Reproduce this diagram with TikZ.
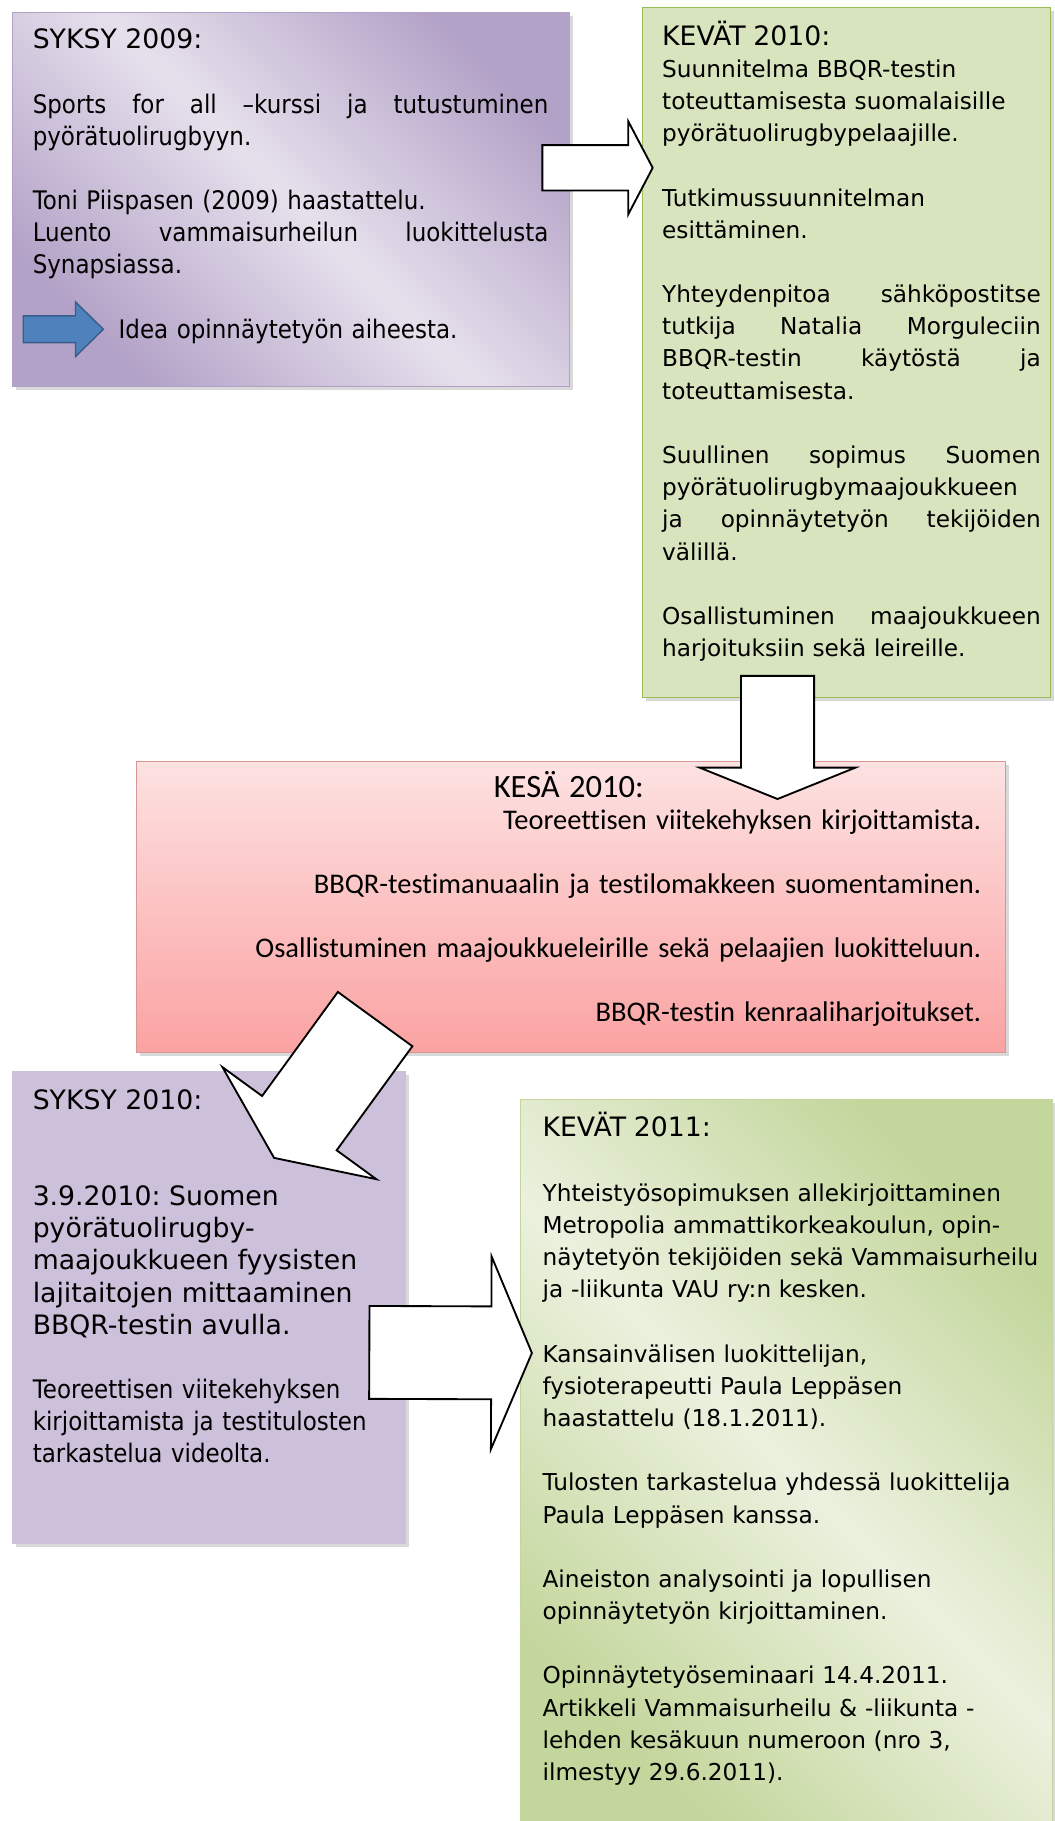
\documentclass[tikz,border=0pt]{standalone}
\usepackage{fontspec}
\setmainfont{DejaVu Sans}
\newfontfamily\verd{DejaVu Sans}
\newfontfamily\tah{DejaVu Sans}[FakeStretch=0.9]
\newfontfamily\calib{Carlito}[Ligatures=NoCommon]
\usetikzlibrary{calc,shadows}
\setlength{\parindent}{0pt}
\frenchspacing

\definecolor{lilaDark}{HTML}{B3A2C7}
\definecolor{lilaLight}{HTML}{E6E0EC}
\definecolor{lilaFlat}{HTML}{CCC0DA}
\definecolor{greenFlat}{HTML}{D7E4BD}
\definecolor{greenDark}{HTML}{C3D69B}
\definecolor{greenLight}{HTML}{EBF1DE}
\definecolor{greenLine}{HTML}{9BBB59}
\definecolor{pinkTop}{HTML}{FDE2E2}
\definecolor{pinkBot}{HTML}{FBA2A2}
\definecolor{redLine}{HTML}{D99694}
\definecolor{arrowBlue}{HTML}{4F81BD}
\definecolor{arrowBlueLine}{HTML}{385D8A}

% justified line and empty line
\newcommand{\jl}[1]{\makebox[\hsize][s]{\spaceskip=\fontdimen2\font plus 1fil\relax #1}}
\newcommand{\gap}{\\[\baselineskip]}

% block arrow from #2 to #3: shaft half width #4, head half width #5, head length #6
\newcommand{\blockarrow}[6][]{%
  \coordinate (hb) at ($(#3)!#6!(#2)$);
  \draw[blockarr,#1] ($(#2)!#4!90:(#3)$) -- ($(hb)!#4!90:(#3)$)
    -- ($(hb)!#5!90:(#3)$) -- (#3) -- ($(hb)!#5!-90:(#3)$)
    -- ($(hb)!#4!-90:(#3)$) -- ($(#2)!#4!-90:(#3)$) -- cycle;
}

\begin{document}
\begin{tikzpicture}[x=1pt,y=-1pt,
    box/.style={draw, line width=0.8pt, inner sep=0pt, anchor=north west,
      drop shadow={shadow xshift=3pt, shadow yshift=-3pt, opacity=0.3}},
    lilabox/.style={box, top color=lilaDark, bottom color=lilaDark,
      middle color=lilaLight, shading angle=-45, draw=lilaDark},
    greenbox/.style={box, top color=greenDark, bottom color=greenDark,
      middle color=greenLight, shading angle=-45, draw=greenDark},
    txt/.style={inner sep=0pt, anchor=base west, align=left},
    blockarr/.style={draw=black, fill=white, line width=1.6pt, line join=miter}]

    \useasboundingbox (0,0) rectangle (908,1568);

    % boxes
    \node[lilabox, minimum width=480pt, minimum height=322pt] (syksy09) at (10,10) {};
    \node[box, fill=greenFlat, draw=greenLine, minimum width=351pt,
      minimum height=594pt] (kevat10) at (553,6) {};
    \node[box, top color=pinkTop, bottom color=pinkBot, draw=redLine,
      minimum width=748pt, minimum height=251pt] (kesa10) at (117,655) {};
    \node[box, fill=lilaFlat, draw=lilaFlat, minimum width=339pt,
      minimum height=407pt] (syksy10) at (10,922) {};
    \node[greenbox, minimum width=458pt, minimum height=630pt] (kevat11) at (448,946) {};

    % texts
    \node[txt, text width=444pt, font=\tah\fontsize{22}{27.7}\selectfont] (syksy09txt) at (28,42) {%
      {\verd\fontsize{23}{27.7}\selectfont SYKSY 2009:}\gap
      \jl{Sports for all –kurssi ja tutustuminen}\\
      pyörätuolirugbyyn.\gap
      Toni Piispasen (2009) haastattelu.\\
      \jl{Luento vammaisurheilun luokittelusta}\\
      Synapsiassa.\gap
      \hspace*{74pt}Idea opinnäytetyön aiheesta.};

    \node[txt, text width=326pt, font=\verd\fontsize{20}{27.7}\selectfont] (kevat10txt) at (570,39) {%
      {\fontsize{23}{27.7}\selectfont KEVÄT 2010:}\\
      Suunnitelma BBQR-testin\\
      toteuttamisesta suomalaisille\\
      pyörätuolirugbypelaajille.\gap
      Tutkimussuunnitelman\\
      esittäminen.\gap
      \jl{Yhteydenpitoa sähköpostitse}\\
      \jl{tutkija Natalia Morguleciin}\\
      \jl{BBQR-testin käytöstä ja}\\
      toteuttamisesta.\gap
      \jl{Suullinen sopimus Suomen}\\
      pyörätuolirugbymaajoukkueen\\
      \jl{ja opinnäytetyön tekijöiden}\\
      välillä.\gap
      \jl{Osallistuminen maajoukkueen}\\
      harjoituksiin sekä leireille.};

    \node[txt, anchor=base east, align=right, text width=710pt,
      font=\calib\fontsize{24.5}{27.5}\selectfont] (kesa10txt) at (845,687) {%
      \makebox[\hsize]{\fontsize{28}{27.5}\selectfont KESÄ 2010:}\\
      Teoreettisen viitekehyksen kirjoittamista.\gap
      BBQR-testimanuaalin ja testilomakkeen suomentaminen.\gap
      Osallistuminen maajoukkueleirille sekä pelaajien luokitteluun.\gap
      BBQR-testin kenraaliharjoitukset.};

    \node[txt, text width=320pt, font=\tah\fontsize{22}{27.7}\selectfont] (syksy10txt) at (28,955) {%
      {\verd\fontsize{23}{27.7}\selectfont SYKSY 2010:}\\[2\baselineskip]
      {\verd\fontsize{23}{27.7}\selectfont 3.9.2010: Suomen\\
      pyörätuolirugby-\\
      maajoukkueen fyysisten\\
      lajitaitojen mittaaminen\\
      BBQR-testin avulla.}\gap
      Teoreettisen viitekehyksen\\
      kirjoittamista ja testitulosten\\
      tarkastelua videolta.};

    \node[txt, text width=440pt, font=\verd\fontsize{20}{27.7}\selectfont] (kevat11txt) at (467,979) {%
      {\fontsize{23}{27.7}\selectfont KEVÄT 2011:}\gap
      Yhteistyösopimuksen allekirjoittaminen\\
      Metropolia ammattikorkeakoulun, opin-\\
      näytetyön tekijöiden sekä Vammaisurheilu\\
      ja -liikunta VAU ry:n kesken.\gap
      Kansainvälisen luokittelijan,\\
      fysioterapeutti Paula Leppäsen\\
      haastattelu (18.1.2011).\gap
      Tulosten tarkastelua yhdessä luokittelija\\
      Paula Leppäsen kanssa.\gap
      Aineiston analysointi ja lopullisen\\
      opinnäytetyön kirjoittaminen.\gap
      Opinnäytetyöseminaari 14.4.2011.\\
      Artikkeli Vammaisurheilu \& -liikunta -\\
      lehden kesäkuun numeroon (nro 3,\\
      ilmestyy 29.6.2011).};

    % arrows
    \coordinate (idea1) at (20,283.5);
    \coordinate (idea2) at (89,283.5);
    \blockarrow[fill=arrowBlue, draw=arrowBlueLine, line width=1.2pt]{idea1}{idea2}{11.5pt}{23.5pt}{24pt}

    \coordinate (a1) at (467,144.5);
    \coordinate (a2) at (562,144.5);
    \blockarrow{a1}{a2}{19.5pt}{40pt}{21pt}

    \coordinate (b1) at (669.5,582);
    \coordinate (b2) at (669.5,688);
    \blockarrow{b1}{b2}{31.5pt}{67pt}{27pt}

    \coordinate (c1) at (323,877.5);
    \coordinate (c2) at (236,997);
    \blockarrow{c1}{c2}{39.7pt}{82pt}{37pt}

    \coordinate (d1) at (318,1164.5);
    \coordinate (d2) at (458,1165);
    \blockarrow{d1}{d2}{40pt}{83pt}{35pt}
\end{tikzpicture}
\end{document}
